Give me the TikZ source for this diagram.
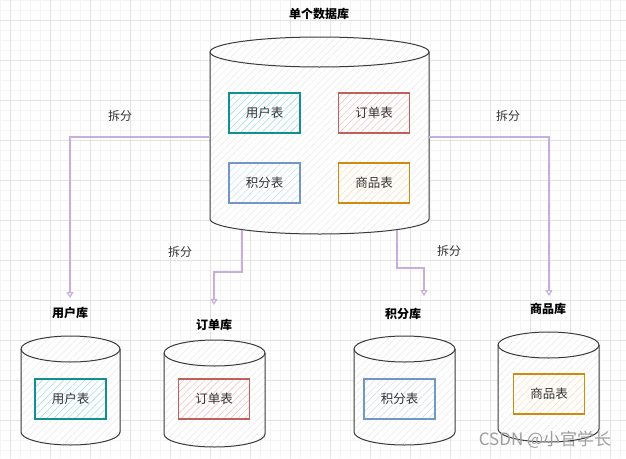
\documentclass[tikz,border=0pt]{standalone}
\usepackage{fontspec}
\setmainfont{Noto Sans CJK SC}
\usetikzlibrary{arrows.meta,patterns.meta,calc}
\definecolor{txt}{HTML}{333333}
\definecolor{arrc}{HTML}{C9AEDD}
\definecolor{gminor}{HTML}{F4F4F4}
\definecolor{gmajor}{HTML}{E2E2E2}
\definecolor{tealB}{HTML}{12908F}\definecolor{tealF}{HTML}{A8DEE1}
\definecolor{redB}{HTML}{C0605A}\definecolor{redF}{HTML}{F5C4C2}
\definecolor{blueB}{HTML}{7496C6}\definecolor{blueF}{HTML}{CFE0F7}
\definecolor{orB}{HTML}{D08A10}\definecolor{orF}{HTML}{FCDDBA}
\definecolor{cylline}{HTML}{3A3A3A}
\newcommand\dbcylinder[6]{% name, cx, rx, top cy, bottom cy, ry
  \path[preaction={fill=white},pattern={Lines[angle=45,distance=5pt,line width=0.5pt]},pattern color=black!9]
    (#2-#3,#4) -- (#2-#3,#5) arc[start angle=180,end angle=360,x radius=#3pt,y radius=#6pt]
    -- (#2+#3,#4) arc[start angle=0,end angle=180,x radius=#3pt,y radius=#6pt] -- cycle;
  \draw[cylline,line width=1pt] (#2-#3,#4) -- (#2-#3,#5) arc[start angle=180,end angle=360,x radius=#3pt,y radius=#6pt] -- (#2+#3,#4);
  \draw[cylline,line width=1pt] (#2,#4) ellipse[x radius=#3pt,y radius=#6pt];
  \pgfmathsetmacro\cylh{#5-#4+2*#6}
  \node[inner sep=0pt,minimum width=2*#3pt,minimum height=\cylh pt] (#1) at (#2,{(#4+#5)/2}) {};
}
\tikzset{
  tbl/.style n args={2}{draw=#1,line width=1.3pt,minimum width=71pt,minimum height=40pt,inner sep=0pt,
    preaction={fill=white},pattern={Lines[angle=45,distance=5pt,line width=0.6pt]},pattern color=#2,
    text=txt,font=\fontsize{12.5}{15}\selectfont},
  ttl/.style={font=\fontsize{12}{14}\selectfont\bfseries,text=black,inner sep=1pt},
  lbl/.style={font=\fontsize{12}{14}\selectfont,text=txt,inner sep=1pt},
  arr/.style={draw=arrc,line width=1.2pt,-{Triangle[open,length=6pt,width=7pt]}},
}
\begin{document}
\begin{tikzpicture}[x=1pt,y=-1pt]
\useasboundingbox (0,0) rectangle (626,458);
\fill[white] (0,0) rectangle (626,458);
% grid
\foreach \i in {0,10,...,620} \draw[gminor,line width=0.5pt] (\i,0) -- (\i,458);
\foreach \j in {0,10,...,450} \draw[gminor,line width=0.5pt] (0,\j) -- (626,\j);
\foreach \i in {10,50,...,610} \draw[gmajor,line width=0.7pt] (\i,0) -- (\i,458);
\foreach \j in {20,60,...,450} \draw[gmajor,line width=0.7pt] (0,\j) -- (626,\j);

% main database
\node[ttl] (tmain) at (319,14) {单个数据库};
\dbcylinder{main}{319.5}{109.5}{52}{219}{15}
\node[tbl={tealB}{tealF}] (m1) at (264.5,113) {用户表};
\node[tbl={redB}{redF}] (m2) at (374,113) {订单表};
\node[tbl={blueB}{blueF}] (m3) at (264.5,183) {积分表};
\node[tbl={orB}{orF}] (m4) at (374,183) {商品表};

% split databases
\node[ttl] (t1) at (70,313) {用户库};
\node[ttl] (t2) at (214,325) {订单库};
\node[ttl] (t3) at (403,314) {积分库};
\node[ttl] (t4) at (548,309) {商品库};
\dbcylinder{db1}{70.5}{49.5}{349}{432}{13}
\dbcylinder{db2}{214.5}{50.5}{353}{434}{13}
\dbcylinder{db3}{404.5}{50.5}{349}{432}{13}
\dbcylinder{db4}{548.5}{50.5}{345}{429}{13}
\node[tbl={tealB}{tealF}] (b1) at (70.5,399) {用户表};
\node[tbl={redB}{redF}] (b2) at (214,399) {订单表};
\node[tbl={blueB}{blueF}] (b3) at (399.5,399) {积分表};
\node[tbl={orB}{orF}] (b4) at (549,394) {商品表};

% connectors
\coordinate (s1) at ($(main.west)+(0,1.5)$);
\coordinate (s4) at ($(main.east)+(0,1.5)$);
\coordinate (s2) at (242,230);
\coordinate (s3) at (397,230);
\coordinate (k2) at (214,272);
\coordinate (k3) at (424,268);
\coordinate (e1) at (70,298);
\coordinate (e2) at (214,305);
\coordinate (e3) at (424,296);
\coordinate (e4) at (549,296);
\draw[arr] (s1) -| (e1);
\draw[arr] (s2) |- (k2) -- (e2);
\draw[arr] (s3) |- (k3) -- (e3);
\draw[arr] (s4) -| (e4);
\node[lbl] (l1) at (120,116) {拆分};
\node[lbl] (l2) at (180,252) {拆分};
\node[lbl] (l3) at (449,251) {拆分};
\node[lbl] (l4) at (508,116) {拆分};

% watermark
\node[font=\fontsize{17}{20}\selectfont,text=black!38,inner sep=0pt] (wm) at (545,440) {CSDN @小官学长};
\end{tikzpicture}
\end{document}
